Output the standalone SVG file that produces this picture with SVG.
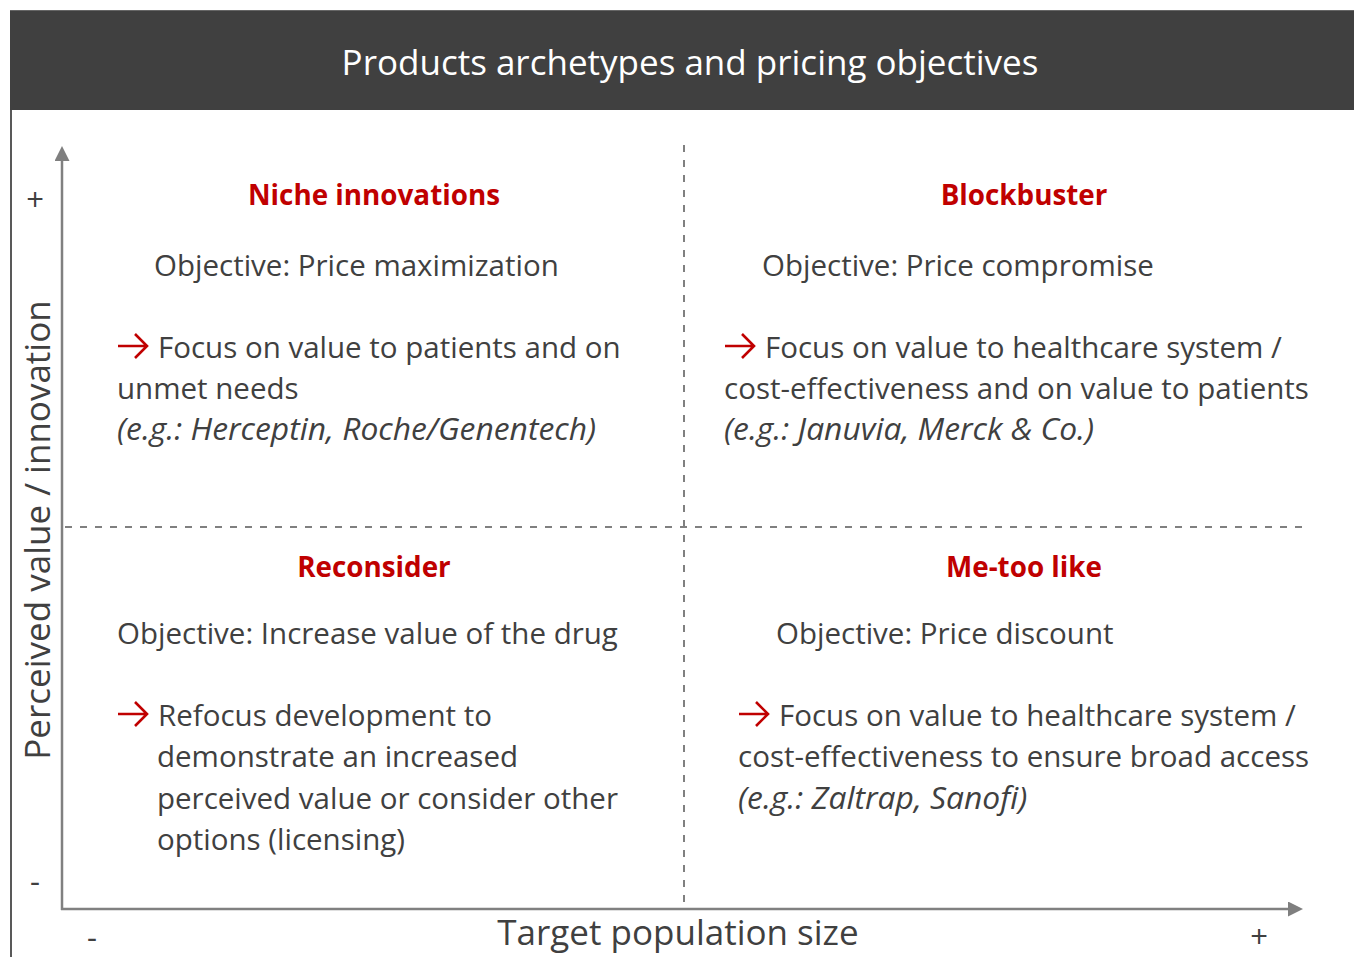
<svg xmlns="http://www.w3.org/2000/svg" width="1354" height="957" viewBox="0 0 1354 957">
<style>
text{font-family:"Open Sans","Liberation Sans",sans-serif;fill:#404040}
.body{font-size:29.5px}
.it{font-size:31.8px;font-style:italic}
.head{font-size:27.8px;font-weight:bold;fill:#c00000;text-anchor:middle}
.axis{stroke:#808080;stroke-width:2.5;fill:none}
.dash{stroke:#808080;stroke-width:2;stroke-dasharray:7 8;fill:none}
.sign{font-size:31px;text-anchor:middle}
.alabel{font-size:35px;text-anchor:middle}
</style>
<defs>
<marker id="ah" viewBox="0 0 10 10" refX="0" refY="5" markerWidth="6.5" markerHeight="6" markerUnits="strokeWidth" orient="auto"><path d="M0,0 L10,5 L0,10 Z" fill="#7f7f7f"/></marker>
<path id="rarrow" d="M1,-12 H29 M18,-24 L30,-12 L18,0" fill="none" stroke="#c00000" stroke-width="2.6"/>
</defs>
<rect width="1354" height="957" fill="#fff"/>
<g id="header">
<rect x="10" y="10" width="1344" height="100" fill="#404040"/>
<line x1="10" y1="10.5" x2="1354" y2="10.5" stroke="#666" stroke-width="1"/>
<text x="690" y="75" style="font-size:35px;fill:#fff;text-anchor:middle">Products archetypes and pricing objectives</text>
</g>
<line x1="11" y1="110" x2="11" y2="957" stroke="#595959" stroke-width="2"/>
<g id="connectors">
<line class="dash" x1="684" y1="145" x2="684" y2="908"/>
<line class="dash" x1="65" y1="527" x2="1305" y2="527"/>
<line class="axis" x1="62" y1="910" x2="62" y2="161" marker-end="url(#ah)"/>
<line class="axis" x1="61" y1="909" x2="1288" y2="909" marker-end="url(#ah)"/>
</g>
<g id="axis-labels">
<text class="sign" x="35" y="211">+</text>
<text class="sign" x="35" y="892">-</text>
<text class="sign" x="92" y="948">-</text>
<text class="sign" x="1259" y="948">+</text>
<text class="alabel" transform="translate(50,530) rotate(-90)">Perceived value / innovation</text>
<text class="alabel" x="678" y="945">Target population size</text>
</g>
<g id="q-niche">
<text class="head" x="374" y="205">Niche innovations</text>
<text class="body" x="154" y="276">Objective: Price maximization</text>
<use href="#rarrow" x="117" y="358"/>
<text class="body" x="158" y="358">Focus on value to patients and on</text>
<text class="body" x="117" y="399">unmet needs</text>
<text class="it" x="117" y="440">(e.g.: Herceptin, Roche/Genentech)</text>
</g>
<g id="q-blockbuster">
<text class="head" x="1024" y="205">Blockbuster</text>
<text class="body" x="762" y="276">Objective: Price compromise</text>
<use href="#rarrow" x="724" y="358"/>
<text class="body" x="765" y="358">Focus on value to healthcare system /</text>
<text class="body" x="724" y="399">cost-effectiveness and on value to patients</text>
<text class="it" x="724" y="440">(e.g.: Januvia, Merck &amp; Co.)</text>
</g>
<g id="q-reconsider">
<text class="head" x="374" y="577">Reconsider</text>
<text class="body" x="117" y="644">Objective: Increase value of the drug</text>
<use href="#rarrow" x="117" y="726"/>
<text class="body" x="158" y="726">Refocus development to</text>
<text class="body" x="157" y="767">demonstrate an increased</text>
<text class="body" x="157" y="809">perceived value or consider other</text>
<text class="body" x="157" y="850">options (licensing)</text>
</g>
<g id="q-metoo">
<text class="head" x="1024" y="577">Me-too like</text>
<text class="body" x="776" y="644">Objective: Price discount</text>
<use href="#rarrow" x="738" y="726"/>
<text class="body" x="779" y="726">Focus on value to healthcare system /</text>
<text class="body" x="738" y="767">cost-effectiveness to ensure broad access</text>
<text class="it" x="738" y="809">(e.g.: Zaltrap, Sanofi)</text>
</g>
</svg>
